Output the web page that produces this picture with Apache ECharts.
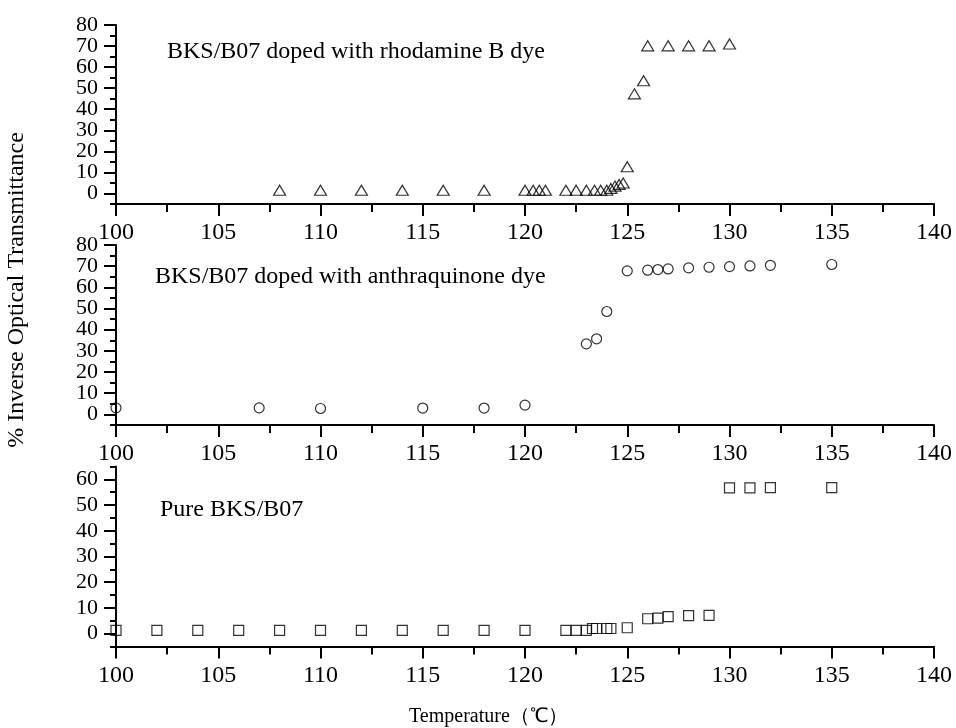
<!DOCTYPE html>
<html>
<head>
<meta charset="utf-8">
<script src="https://cdn.jsdelivr.net/npm/echarts@6/dist/echarts.min.js"></script>
<style>
  html, body { margin: 0; padding: 0; background: #fff; }
  #chart { width: 956px; height: 728px; }
</style>
</head>
<body>
<div id="chart"></div>
<script>
// Temperature (°C) and % inverse optical transmittance for each sample
const rhodamineTemp = [108, 110, 112, 114, 116, 118, 120, 120.4, 120.7, 121,
  122, 122.5, 123, 123.4, 123.7, 124, 124.2, 124.4, 124.6, 124.8,
  125, 125.35, 125.8, 126, 127, 128, 129, 130];
const rhodamineValue = [1.5, 1.5, 1.5, 1.5, 1.5, 1.5, 1.5, 1.5, 1.5, 1.5,
  1.5, 1.5, 1.5, 1.5, 1.5, 1.5, 2.4, 3.5, 4.3, 5.0,
  12.7, 47.3, 53.5, 70.1, 70.1, 70.1, 70.1, 71.0];

const anthraTemp = [100, 107, 110, 115, 118, 120, 123, 123.5, 124, 125,
  126, 126.5, 127, 128, 129, 130, 131, 132, 135];
const anthraValue = [3.1, 3.1, 2.8, 3.0, 3.0, 4.4, 33.3, 35.7, 48.6, 67.8,
  68.1, 68.4, 68.7, 69.2, 69.5, 69.8, 70.1, 70.4, 70.8];

const pureTemp = [100, 102, 104, 106, 108, 110, 112, 114, 116, 118, 120,
  122, 122.5, 123, 123.3, 123.5, 124, 124.2, 125,
  126, 126.5, 127, 128, 129, 130, 131, 132, 135];
const pureValue = [1.3, 1.3, 1.3, 1.3, 1.3, 1.3, 1.3, 1.3, 1.3, 1.3, 1.3,
  1.3, 1.3, 1.3, 2.0, 2.0, 2.0, 2.0, 2.3,
  5.8, 6.0, 6.6, 7.0, 7.1, 56.7, 56.7, 56.8, 56.8];

// Axis ranges and labelled ticks
const tempMin = 100, tempMax = 140, tempStep = 5;
const dyeTicks = [0, 10, 20, 30, 40, 50, 60, 70, 80];
const pureTicks = [0, 10, 20, 30, 40, 50, 60];

const panelTitles = [
  'BKS/B07 doped with rhodamine B dye',
  'BKS/B07 doped with anthraquinone dye',
  'Pure BKS/B07'
];
const yAxisName = '% Inverse Optical Transmittance';
const xAxisName = 'Temperature（℃）';

const SERIF = '"Liberation Serif", "Times New Roman", serif';

const grids = [
  { left: 116, right: 22, top: 25, height: 179 },
  { left: 116, right: 22, top: 245, height: 180 },
  { left: 116, right: 22, top: 466.5, height: 180 }
];
const yRanges = [
  { min: -5, max: 80, ticks: dyeTicks },
  { min: -5, max: 80, ticks: dyeTicks },
  { min: -5, max: 65, ticks: pureTicks }
];

const xAxes = grids.map((g, i) => ({
  type: 'value', gridIndex: i, min: tempMin, max: tempMax, interval: tempStep,
  axisLine: { show: true, onZero: false, lineStyle: { color: '#000', width: 2 } },
  axisTick: { show: true, inside: false, length: 12, lineStyle: { color: '#000', width: 2 } },
  minorTick: { show: true, splitNumber: 2, length: 8, lineStyle: { color: '#000', width: 2 } },
  axisLabel: { color: '#000', fontSize: 24, fontFamily: SERIF, margin: 17,
    showMinLabel: true, showMaxLabel: true, hideOverlap: false },
  splitLine: { show: false }
}));

const yAxes = [];
yRanges.forEach((r, i) => {
  // labelled axis with long ticks at every 10
  yAxes.push({
    type: 'value', gridIndex: i, position: 'left', offset: 0,
    min: r.min, max: r.max, interval: 5,
    axisLine: { show: true, onZero: false, lineStyle: { color: '#000', width: 2 } },
    axisTick: { show: true, inside: false, length: 12, customValues: r.ticks,
      lineStyle: { color: '#000', width: 2 } },
    axisLabel: { color: '#000', fontSize: 22, fontFamily: SERIF, margin: 18,
      showMinLabel: true, showMaxLabel: true, hideOverlap: false,
      formatter: (v) => (r.ticks.indexOf(v) >= 0 ? String(v) : '') },
    splitLine: { show: false }
  });
  // short ticks at every 5
  yAxes.push({
    type: 'value', gridIndex: i, position: 'left', offset: 0,
    min: r.min, max: r.max, interval: 5,
    axisLine: { show: false },
    axisTick: { show: true, inside: false, length: 6, lineStyle: { color: '#000', width: 2 } },
    axisLabel: { show: false },
    splitLine: { show: false }
  });
});

const zip = (xs, ys) => xs.map((x, k) => [x, ys[k]]);
const markerStyle = { color: 'rgba(255,255,255,0)', borderColor: '#000', borderWidth: 1.2 };

const series = [
  { type: 'scatter', xAxisIndex: 0, yAxisIndex: 0, symbol: 'triangle', symbolSize: [12, 10],
    data: zip(rhodamineTemp, rhodamineValue), itemStyle: markerStyle, clip: false, silent: true },
  { type: 'scatter', xAxisIndex: 1, yAxisIndex: 2, symbol: 'circle', symbolSize: 10,
    data: zip(anthraTemp, anthraValue), itemStyle: markerStyle, clip: false, silent: true },
  { type: 'scatter', xAxisIndex: 2, yAxisIndex: 4, symbol: 'rect', symbolSize: 10,
    data: zip(pureTemp, pureValue), itemStyle: markerStyle, clip: false, silent: true }
];

const titleSpots = [[167, 52], [155, 277], [160, 510]];
const graphic = panelTitles.map((t, i) => ({
  type: 'text', x: titleSpots[i][0], y: titleSpots[i][1], silent: true,
  style: { text: t, fill: '#000', font: '24px ' + SERIF, textAlign: 'left', textVerticalAlign: 'middle' }
}));
graphic.push({
  type: 'text', x: 17, y: 290, rotation: Math.PI / 2, silent: true,
  style: { text: yAxisName, fill: '#000', font: '24px ' + SERIF, textAlign: 'center', textVerticalAlign: 'middle' }
});
graphic.push({
  type: 'text', x: 409, y: 717, silent: true,
  style: { text: xAxisName, fill: '#000', font: '20px ' + SERIF, textAlign: 'left', textVerticalAlign: 'middle' }
});

const chart = echarts.init(document.getElementById('chart'), null, { renderer: 'canvas' });
chart.setOption({
  animation: false,
  backgroundColor: '#fff',
  grid: grids,
  xAxis: xAxes,
  yAxis: yAxes,
  series: series,
  graphic: graphic
});
</script>
</body>
</html>
